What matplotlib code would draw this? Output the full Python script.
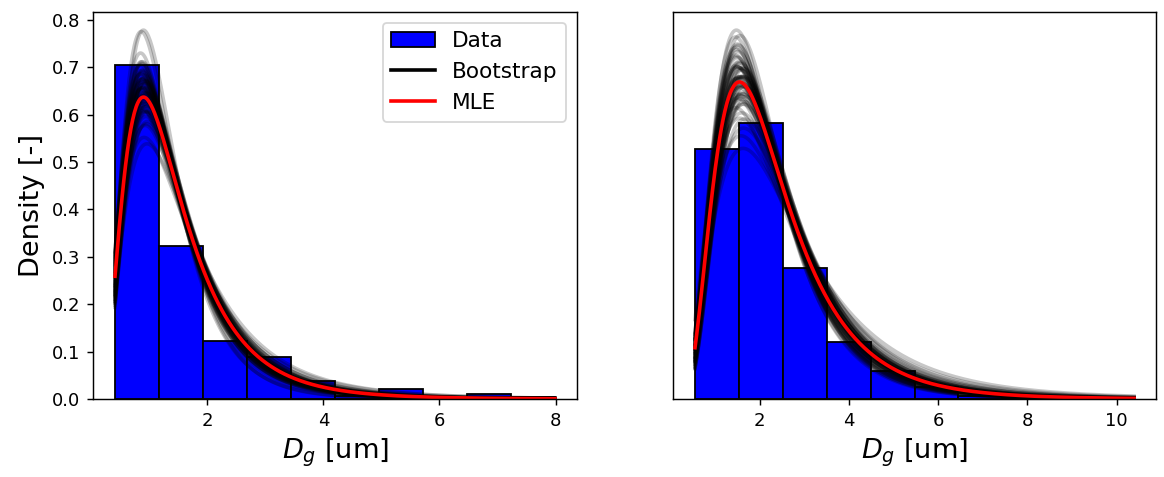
import numpy as np
import matplotlib
matplotlib.use('Agg')
import matplotlib.pyplot as plt
from matplotlib.lines import Line2D
from matplotlib.patches import Patch

OUT_PNG = 'out.png'

# histogram data (density), 10 equal bins per panel
LEFT_RANGE = (0.41, 7.99)
LEFT_HEIGHTS = [0.705, 0.322, 0.123, 0.088, 0.037, 0.0055, 0.022, 0.0, 0.0106, 0.005]
RIGHT_RANGE = (0.553, 10.39)
RIGHT_HEIGHTS = [0.325, 0.359, 0.170, 0.0741, 0.0368, 0.0160, 0.0039, 0.0013, 0.0013, 0.0013]

# lognormal fits: MLE (mode, sigma) and bootstrap replicates (mode, sigma)
LEFT_MLE = (0.90, 0.586)
RIGHT_MLE = (1.55, 0.540)

LEFT_BOOT_MODES = [0.90, 0.86, 0.94, 0.88, 0.93, 0.91, 0.85, 0.96, 0.89, 0.87, 0.95, 0.92, 0.86, 0.93,
                   0.90, 0.88, 0.97, 0.91, 0.87, 0.94, 0.89, 0.85, 0.95, 0.92, 0.88, 0.96, 0.90, 0.86,
                   0.93, 0.91, 0.87, 0.94, 0.89, 0.85, 0.96, 0.92, 0.88, 0.95, 0.90, 0.86, 0.93, 0.91,
                   0.87, 0.97, 0.89, 0.88, 0.94, 0.92, 0.85, 0.95, 0.90, 0.87, 0.93, 0.86, 0.96, 0.91]
LEFT_BOOT_SIGMAS = [0.502, 0.522, 0.545, 0.548, 0.550, 0.551, 0.552, 0.553, 0.554, 0.555, 0.556, 0.557,
                    0.558, 0.559, 0.560, 0.561, 0.562, 0.563, 0.564, 0.565, 0.566, 0.567, 0.568, 0.569,
                    0.570, 0.571, 0.572, 0.573, 0.574, 0.575, 0.576, 0.577, 0.578, 0.579, 0.580, 0.581,
                    0.582, 0.583, 0.584, 0.585, 0.586, 0.587, 0.588, 0.590, 0.592, 0.594, 0.596, 0.598,
                    0.600, 0.603, 0.606, 0.610, 0.615, 0.622, 0.632, 0.645]

RIGHT_BOOT_MODES = [1.56, 1.48, 1.64, 1.52, 1.66, 1.50, 1.60, 1.46, 1.57, 1.63, 1.51, 1.55, 1.67, 1.49,
                    1.58, 1.61, 1.47, 1.65, 1.53, 1.59, 1.50, 1.62, 1.54, 1.68, 1.48, 1.57, 1.52, 1.64,
                    1.46, 1.60, 1.55, 1.50, 1.63, 1.58, 1.49, 1.66, 1.53, 1.61, 1.47, 1.56, 1.65, 1.51,
                    1.59, 1.54, 1.62, 1.48, 1.57, 1.67, 1.52, 1.60, 1.50, 1.64, 1.55, 1.46, 1.58, 1.63]
RIGHT_BOOT_SIGMAS = [0.482, 0.497, 0.500, 0.503, 0.505, 0.507, 0.509, 0.510, 0.511, 0.512, 0.513, 0.514,
                     0.515, 0.516, 0.517, 0.518, 0.519, 0.520, 0.521, 0.522, 0.523, 0.524, 0.525, 0.526,
                     0.527, 0.528, 0.529, 0.530, 0.531, 0.532, 0.533, 0.534, 0.535, 0.536, 0.537, 0.538,
                     0.539, 0.540, 0.541, 0.542, 0.544, 0.546, 0.548, 0.550, 0.552, 0.555, 0.558, 0.561,
                     0.565, 0.570, 0.576, 0.583, 0.592, 0.602, 0.612, 0.620]


def lognorm_pdf(x, mode, sigma):
    mu = np.log(mode) + sigma ** 2
    return np.exp(-(np.log(x) - mu) ** 2 / (2 * sigma ** 2)) / (x * sigma * np.sqrt(2 * np.pi))


def draw_panel(ax, rng, heights, boot_modes, boot_sigmas, mle):
    edges = np.linspace(rng[0], rng[1], len(heights) + 1)
    ax.bar(edges[:-1], heights, width=np.diff(edges), align='edge',
           color='blue', edgecolor='black', linewidth=1.0)
    x = np.linspace(rng[0], rng[1], 500)
    for m, s in zip(boot_modes, boot_sigmas):
        ax.plot(x, lognorm_pdf(x, m, s), color='black', alpha=0.22, linewidth=2.0)
    ax.plot(x, lognorm_pdf(x, *mle), color='red', linewidth=2.0)
    ax.set_xlabel('$D_g$ [um]', fontsize=15)


fig = plt.figure(figsize=(1164 / 130, 477 / 130), dpi=130)
ax1 = fig.add_axes([0.0799, 0.1635, 0.4158, 0.812])
ax2 = fig.add_axes([0.5782, 0.1635, 0.4150, 0.812])

draw_panel(ax1, LEFT_RANGE, LEFT_HEIGHTS, LEFT_BOOT_MODES, LEFT_BOOT_SIGMAS, LEFT_MLE)
draw_panel(ax2, RIGHT_RANGE, RIGHT_HEIGHTS, RIGHT_BOOT_MODES, RIGHT_BOOT_SIGMAS, RIGHT_MLE)

ax1.set_ylabel('Density [-]', fontsize=15)
ax2.set_yticks([])

handles = [Patch(facecolor='blue', edgecolor='black', label='Data'),
           Line2D([], [], color='black', linewidth=2.0, label='Bootstrap'),
           Line2D([], [], color='red', linewidth=2.0, label='MLE')]
ax1.legend(handles=handles, loc='upper right', fontsize=12)

fig.savefig(OUT_PNG, dpi=130)
